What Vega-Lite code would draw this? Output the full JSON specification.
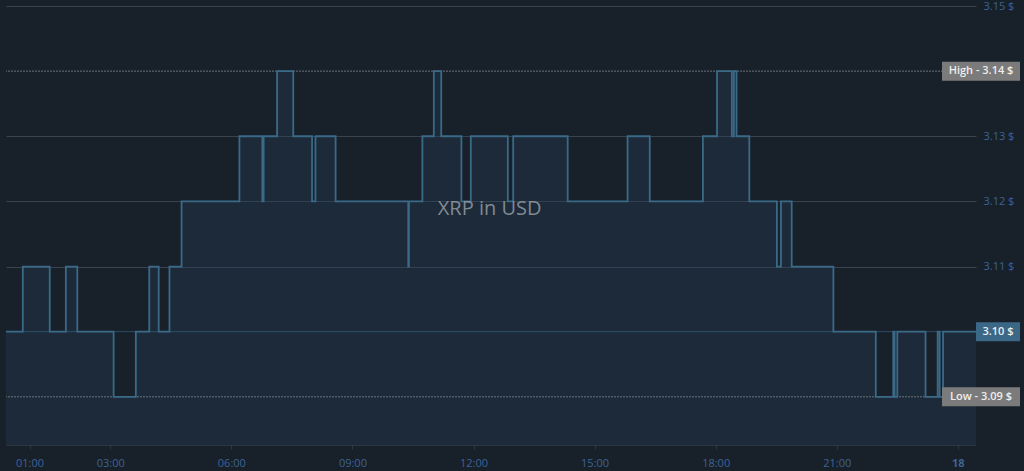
{
  "$schema": "https://vega.github.io/schema/vega-lite/v6.json",
  "width": 970,
  "height": 439,
  "autosize": "none",
  "padding": {"left": 6, "top": 6, "right": 48, "bottom": 26},
  "background": "#18202a",
  "config": {
    "view": {"stroke": null},
    "font": "Open Sans"
  },
  "data": {
    "values": [
      {"time": "2025-07-17T00:25:00Z", "price": 3.10},
      {"time": "2025-07-17T00:50:00Z", "price": 3.11},
      {"time": "2025-07-17T01:30:00Z", "price": 3.10},
      {"time": "2025-07-17T01:54:00Z", "price": 3.11},
      {"time": "2025-07-17T02:11:00Z", "price": 3.10},
      {"time": "2025-07-17T03:05:00Z", "price": 3.09},
      {"time": "2025-07-17T03:38:00Z", "price": 3.10},
      {"time": "2025-07-17T03:58:00Z", "price": 3.11},
      {"time": "2025-07-17T04:12:00Z", "price": 3.10},
      {"time": "2025-07-17T04:28:00Z", "price": 3.11},
      {"time": "2025-07-17T04:46:00Z", "price": 3.12},
      {"time": "2025-07-17T06:12:00Z", "price": 3.13},
      {"time": "2025-07-17T06:46:00Z", "price": 3.12},
      {"time": "2025-07-17T06:48:00Z", "price": 3.13},
      {"time": "2025-07-17T07:08:00Z", "price": 3.14},
      {"time": "2025-07-17T07:32:00Z", "price": 3.13},
      {"time": "2025-07-17T08:00:00Z", "price": 3.12},
      {"time": "2025-07-17T08:05:00Z", "price": 3.13},
      {"time": "2025-07-17T08:35:00Z", "price": 3.12},
      {"time": "2025-07-17T10:23:00Z", "price": 3.11},
      {"time": "2025-07-17T10:24:00Z", "price": 3.12},
      {"time": "2025-07-17T10:44:00Z", "price": 3.13},
      {"time": "2025-07-17T11:01:00Z", "price": 3.14},
      {"time": "2025-07-17T11:12:00Z", "price": 3.13},
      {"time": "2025-07-17T11:42:00Z", "price": 3.12},
      {"time": "2025-07-17T11:56:00Z", "price": 3.13},
      {"time": "2025-07-17T12:51:00Z", "price": 3.12},
      {"time": "2025-07-17T12:59:00Z", "price": 3.13},
      {"time": "2025-07-17T14:20:00Z", "price": 3.12},
      {"time": "2025-07-17T15:49:00Z", "price": 3.13},
      {"time": "2025-07-17T16:22:00Z", "price": 3.12},
      {"time": "2025-07-17T17:41:00Z", "price": 3.13},
      {"time": "2025-07-17T18:02:00Z", "price": 3.14},
      {"time": "2025-07-17T18:24:00Z", "price": 3.13},
      {"time": "2025-07-17T18:27:00Z", "price": 3.14},
      {"time": "2025-07-17T18:31:00Z", "price": 3.13},
      {"time": "2025-07-17T18:50:00Z", "price": 3.12},
      {"time": "2025-07-17T19:31:00Z", "price": 3.11},
      {"time": "2025-07-17T19:37:00Z", "price": 3.12},
      {"time": "2025-07-17T19:53:00Z", "price": 3.11},
      {"time": "2025-07-17T20:55:00Z", "price": 3.10},
      {"time": "2025-07-17T21:58:00Z", "price": 3.09},
      {"time": "2025-07-17T22:24:00Z", "price": 3.10},
      {"time": "2025-07-17T22:26:00Z", "price": 3.09},
      {"time": "2025-07-17T22:30:00Z", "price": 3.10},
      {"time": "2025-07-17T23:12:00Z", "price": 3.09},
      {"time": "2025-07-17T23:30:00Z", "price": 3.10},
      {"time": "2025-07-17T23:33:00Z", "price": 3.09},
      {"time": "2025-07-17T23:38:00Z", "price": 3.10},
      {"time": "2025-07-18T00:27:00Z", "price": 3.10}
    ]
  },
  "encoding": {
    "x": {
      "field": "time",
      "type": "temporal",
      "title": null,
      "scale": {
        "type": "utc",
        "domain": [
          {"year": 2025, "month": 7, "date": 17, "hours": 0, "minutes": 25, "utc": true},
          {"year": 2025, "month": 7, "date": 18, "hours": 0, "minutes": 27, "utc": true}
        ]
      },
      "axis": {
        "values": [
          {"year": 2025, "month": 7, "date": 17, "hours": 1, "utc": true},
          {"year": 2025, "month": 7, "date": 17, "hours": 3, "utc": true},
          {"year": 2025, "month": 7, "date": 17, "hours": 6, "utc": true},
          {"year": 2025, "month": 7, "date": 17, "hours": 9, "utc": true},
          {"year": 2025, "month": 7, "date": 17, "hours": 12, "utc": true},
          {"year": 2025, "month": 7, "date": 17, "hours": 15, "utc": true},
          {"year": 2025, "month": 7, "date": 17, "hours": 18, "utc": true},
          {"year": 2025, "month": 7, "date": 17, "hours": 21, "utc": true},
          {"year": 2025, "month": 7, "date": 18, "hours": 0, "utc": true}
        ],
        "labelExpr": "utchours(datum.value) == 0 ? utcFormat(datum.value, '%d') : utcFormat(datum.value, '%H:%M')",
        "labelFontWeight": {"condition": {"test": "utchours(datum.value) == 0", "value": "bold"}, "value": "normal"},
        "labelColor": "#3d6394",
        "labelFontSize": 11,
        "labelPadding": 8,
        "domainColor": "#2c3744",
        "tickColor": "#2c3744",
        "tickSize": 4,
        "grid": false
      }
    },
    "y": {
      "field": "price",
      "type": "quantitative",
      "title": null,
      "scale": {"domain": [3.0826, 3.15], "zero": false, "nice": false},
      "axis": {
        "orient": "right",
        "values": [3.11, 3.12, 3.13, 3.15],
        "labelExpr": "format(datum.value, '.2f') + ' $'",
        "labelColor": "#3d6394",
        "labelFontSize": 11,
        "labelPadding": 7,
        "labelBound": false,
        "ticks": false,
        "domain": false,
        "grid": true,
        "gridColor": "#3a434e",
        "gridWidth": 1
      }
    }
  },
  "layer": [
    {
      "mark": {"type": "area", "interpolate": "step-after", "color": "#24405a", "opacity": 0.32, "clip": true}
    },
    {
      "data": {"values": [{"level": 3.14}, {"level": 3.09}]},
      "mark": {"type": "rule", "color": "#6c727b", "strokeDash": [2, 1], "strokeWidth": 1},
      "encoding": {
        "x": null,
        "y": {"field": "level", "type": "quantitative"}
      }
    },
    {
      "data": {"values": [{"level": 3.10}]},
      "mark": {"type": "rule", "color": "#3b6a8a", "strokeWidth": 1, "opacity": 0.6},
      "encoding": {
        "x": null,
        "y": {"field": "level", "type": "quantitative"}
      }
    },
    {
      "mark": {"type": "line", "interpolate": "step-after", "color": "#3a6a88", "strokeWidth": 1.8, "clip": true}
    },
    {
      "data": {"values": [{"label": "XRP in USD", "t": "2025-07-17T12:24:00Z", "v": 3.1188}]},
      "mark": {"type": "text", "fontSize": 20, "color": "#939aa1", "opacity": 0.85, "baseline": "middle", "align": "center"},
      "encoding": {
        "x": {"field": "t", "type": "temporal"},
        "y": {"field": "v", "type": "quantitative"},
        "text": {"field": "label"}
      }
    },
    {
      "data": {
        "values": [
          {"t": "2025-07-18T00:27:00Z", "v": 3.14, "label": "High  -  3.14 $"},
          {"t": "2025-07-18T00:27:00Z", "v": 3.09, "label": "Low  -  3.09 $"}
        ]
      },
      "layer": [
        {
          "mark": {"type": "point", "shape": "M-1,-0.2436H1V0.2436H-1Z", "size": 6084, "filled": true, "color": "#7b7b7b", "opacity": 1, "xOffset": 5},
          "encoding": {
            "x": {"field": "t", "type": "temporal"},
            "y": {"field": "v", "type": "quantitative"}
          }
        },
        {
          "mark": {"type": "text", "color": "#eeeeee", "fontSize": 11, "fontWeight": 600, "align": "center", "baseline": "middle", "xOffset": 5},
          "encoding": {
            "x": {"field": "t", "type": "temporal"},
            "y": {"field": "v", "type": "quantitative"},
            "text": {"field": "label"}
          }
        }
      ]
    },
    {
      "data": {"values": [{"t": "2025-07-18T00:27:00Z", "v": 3.10, "label": "3.10 $"}]},
      "layer": [
        {
          "mark": {"type": "point", "shape": "M-1,-0.4318H1V0.4318H-1Z", "size": 1936, "filled": true, "color": "#3a6886", "opacity": 1, "xOffset": 22},
          "encoding": {
            "x": {"field": "t", "type": "temporal"},
            "y": {"field": "v", "type": "quantitative"}
          }
        },
        {
          "mark": {"type": "text", "color": "#eeeeee", "fontSize": 11, "fontWeight": 600, "align": "center", "baseline": "middle", "xOffset": 22},
          "encoding": {
            "x": {"field": "t", "type": "temporal"},
            "y": {"field": "v", "type": "quantitative"},
            "text": {"field": "label"}
          }
        }
      ]
    }
  ]
}
